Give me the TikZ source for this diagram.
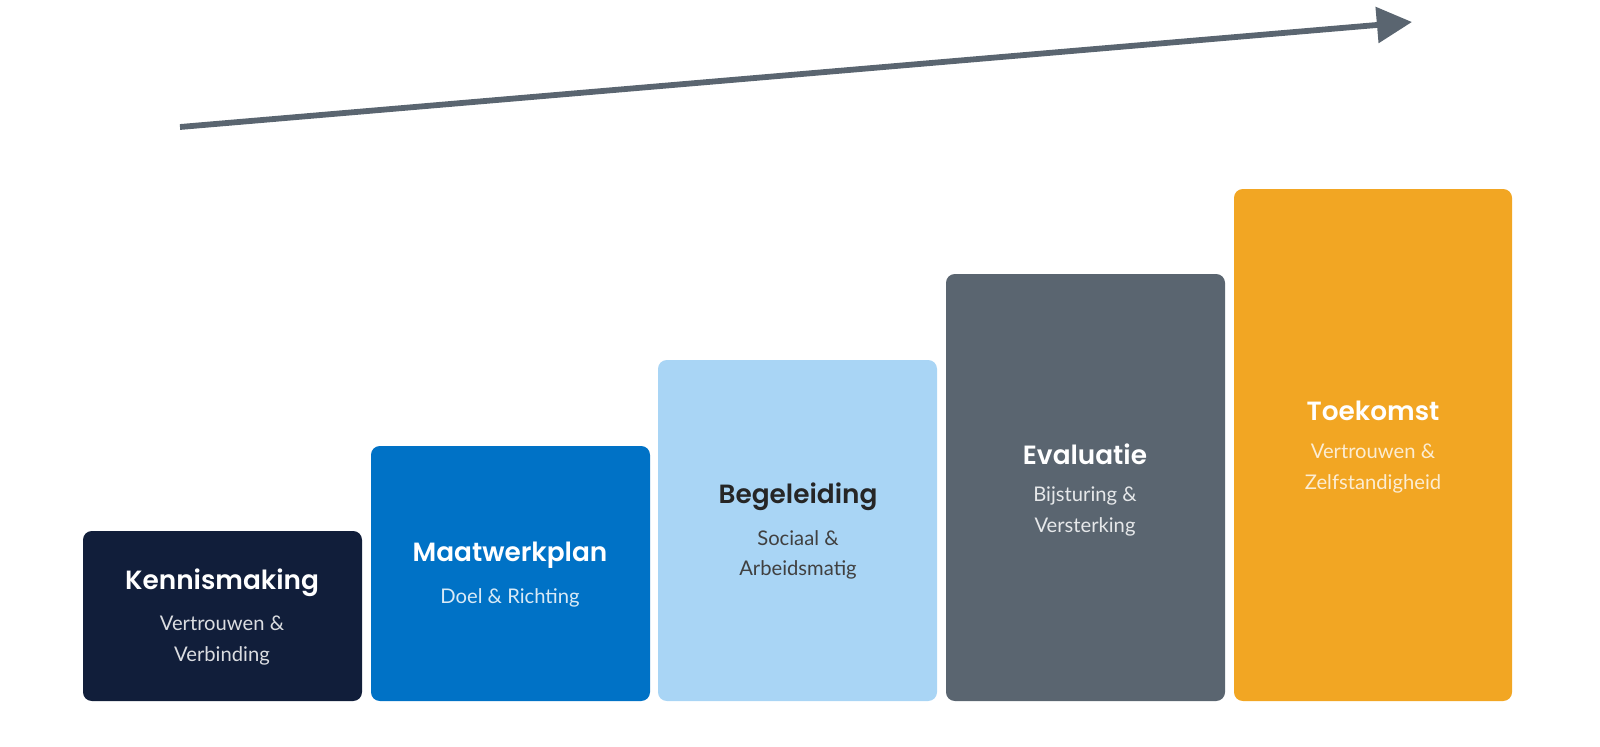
\documentclass[tikz,border=0pt]{standalone}
\usepackage{fontspec}
\setmainfont{Lato}
\newfontfamily\titlefont{Poppins}[BoldFont=* SemiBold]
\usetikzlibrary{arrows.meta}
\definecolor{navy}{HTML}{111E3A}
\definecolor{mblue}{HTML}{0072C6}
\definecolor{lblue}{HTML}{A9D5F5}
\definecolor{slate}{HTML}{5A6570}
\definecolor{orng}{HTML}{F2A623}
\tikzset{
  x=0.02cm,y=-0.02cm,
  stepbox/.style={rounded corners=5pt},
  ttl/.style={font=\titlefont\bfseries\fontsize{15}{18}\selectfont,anchor=center},
  sub/.style={font=\fontsize{11.5}{17.5}\selectfont,align=center,anchor=north},
}
\begin{document}
\begin{tikzpicture}
\coordinate (s) at (180,127);
\coordinate (e) at (1412,22);
\draw[slate,line width=3.3pt,-{Triangle[length=20pt,width=20pt]}] (s) -- (e);
\fill[navy,stepbox] (83,531) rectangle (362,701);
\fill[mblue,stepbox] (371,446) rectangle (650,701);
\fill[lblue,stepbox] (658,360) rectangle (937,701);
\fill[slate,stepbox] (946,274) rectangle (1225,701);
\fill[orng,stepbox] (1234,189) rectangle (1512,701);
\node[ttl,white] (t1) at (222,583) {Kennismaking};
\node[sub,white!85!navy] (s1) at (222,610) {Vertrouwen \&\\Verbinding};
\node[ttl,white] (t2) at (510,555) {Maatwerkplan};
\node[sub,white!85!mblue] (s2) at (510,582) {Doel \& Richting};
\node[ttl,black!85] (t3) at (798,497) {Begeleiding};
\node[sub,black!75] (s3) at (798,524) {Sociaal \&\\Arbeidsmatig};
\node[ttl,white] (t4) at (1085,454) {Evaluatie};
\node[sub,white!85!slate] (s4) at (1085,481) {Bijsturing \&\\Versterking};
\node[ttl,white] (t5) at (1373,411) {Toekomst};
\node[sub,white!80!orng] (s5) at (1373,438) {Vertrouwen \&\\Zelfstandigheid};
\pgfresetboundingbox
\useasboundingbox (0,0) rectangle (1600,747);
\end{tikzpicture}
\end{document}
